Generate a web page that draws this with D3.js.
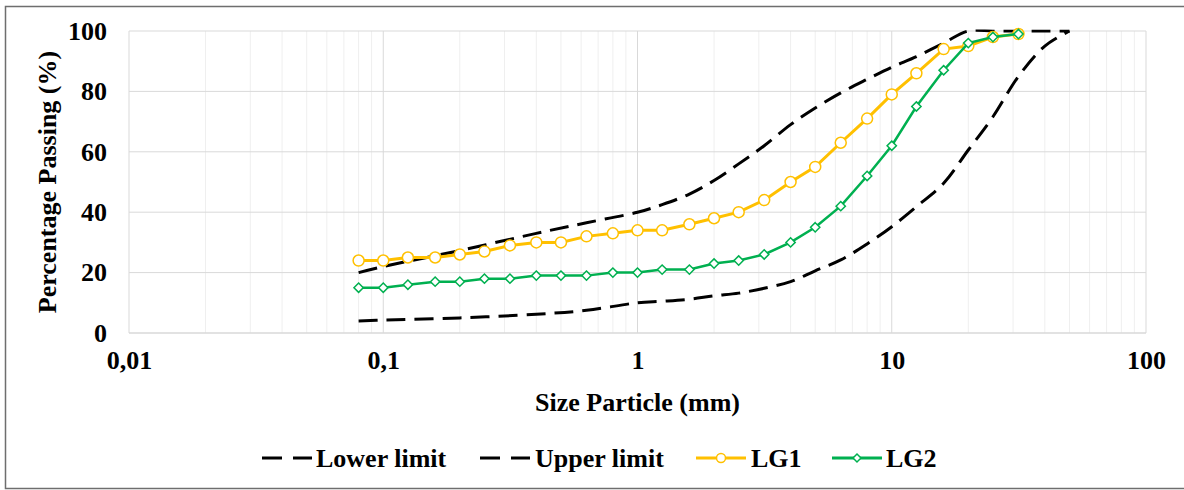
<!DOCTYPE html>
<html>
<head>
<meta charset="utf-8">
<script src="https://cdn.jsdelivr.net/npm/d3@7"></script>
<style>
  body { margin: 0; background: #fff; }
  text { font-family: "Liberation Serif", "Times New Roman", serif; font-weight: bold; fill: #000; }
</style>
</head>
<body>
<div id="chart"></div>
<script>
// sieve sizes (mm)
var sieves = [0.08, 0.1, 0.125, 0.16, 0.2, 0.25, 0.315, 0.4, 0.5, 0.63, 0.8, 1, 1.25, 1.6, 2, 2.5, 3.15, 4, 5, 6.3, 8, 10, 12.5, 16, 20, 25, 31.5];
var lg1 = [24, 24, 25, 25, 26, 27, 29, 30, 30, 32, 33, 34, 34, 36, 38, 40, 44, 50, 55, 63, 71, 79, 86, 94, 95, 98, 99];
var lg2 = [15, 15, 16, 17, 17, 18, 18, 19, 19, 19, 20, 20, 21, 21, 23, 24, 26, 30, 35, 42, 52, 62, 75, 87, 96, 98, 99];

// grading envelope
var limitSizes = [0.08, 0.1, 0.2, 0.4, 0.63, 1, 1.25, 1.6, 2, 2.5, 3.15, 4, 5, 6.3, 8, 10, 12.5, 16, 20, 25, 31.5, 40, 50];
var lowerLimit = [4, 4.3, 5, 6.2, 7.5, 10, 10.5, 11.2, 12.3, 13.2, 14.8, 17, 20.6, 24.2, 29.5, 35.2, 41.8, 49.6, 60.6, 71.6, 85, 95, 100];
var upperLimit = [20, 22, 27.3, 33, 36.5, 40, 42.5, 46, 50.5, 56, 62, 69, 74.5, 79.5, 84, 88, 91.5, 96, 100, 100, 100, 100, 100];

var xTicks = [0.01, 0.1, 1, 10, 100];
var xTickLabels = ["0,01", "0,1", "1", "10", "100"];
var yTicks = [0, 20, 40, 60, 80, 100];

var W = 1184, H = 490;
var m = {left: 129, right: 1146, top: 31, bottom: 333};

var svg = d3.select("#chart").append("svg")
    .attr("width", W)
    .attr("height", H);

svg.append("clipPath").attr("id", "plotclip")
  .append("rect")
    .attr("x", m.left).attr("y", m.top - 1.5)
    .attr("width", m.right - m.left).attr("height", m.bottom - m.top + 3);

// chart frame
svg.append("rect")
    .attr("x", 5.5).attr("y", 6.5)
    .attr("width", W).attr("height", 482)
    .attr("fill", "#fff")
    .attr("stroke", "#6e6e6e")
    .attr("stroke-width", 1.5);

var x = d3.scaleLog().domain([0.01, 100]).range([m.left, m.right]);
var y = d3.scaleLinear().domain([0, 100]).range([m.bottom, m.top]);

// minor vertical grid
var minor = [];
[0.01, 0.1, 1, 10].forEach(function(d) {
  for (var k = 2; k < 10; k++) minor.push(d * k);
});
svg.append("g").selectAll("line")
    .data(minor)
    .enter().append("line")
    .attr("x1", function(d) { return x(d); })
    .attr("x2", function(d) { return x(d); })
    .attr("y1", m.top).attr("y2", m.bottom)
    .attr("stroke", "#efefef")
    .attr("stroke-width", 1);

// major grid
svg.append("g").selectAll("line")
    .data(xTicks)
    .enter().append("line")
    .attr("x1", function(d) { return x(d); })
    .attr("x2", function(d) { return x(d); })
    .attr("y1", m.top).attr("y2", m.bottom)
    .attr("stroke", "#d9d9d9")
    .attr("stroke-width", 1);

svg.append("g").selectAll("line")
    .data(yTicks)
    .enter().append("line")
    .attr("x1", m.left).attr("x2", m.right)
    .attr("y1", function(d) { return y(d); })
    .attr("y2", function(d) { return y(d); })
    .attr("stroke", "#d9d9d9")
    .attr("stroke-width", function(d) { return d == 0 ? 1.5 : 1; });

// axes (labels only)
var yAxis = svg.append("g")
    .attr("transform", "translate(" + (m.left - 22) + ",0)")
    .call(d3.axisLeft(y).tickValues(yTicks).tickSize(0).tickPadding(0));
yAxis.select(".domain").remove();
yAxis.selectAll("text")
    .style("font-size", "26px")
    .style("font-family", "Liberation Serif, serif")
    .style("font-weight", "bold");

var xAxis = svg.append("g")
    .attr("transform", "translate(0," + (m.bottom + 18) + ")")
    .call(d3.axisBottom(x).tickValues(xTicks).tickSize(0).tickPadding(0)
      .tickFormat(function(d, i) { return xTickLabels[i]; }));
xAxis.select(".domain").remove();
xAxis.selectAll("text")
    .style("font-size", "26px")
    .style("font-family", "Liberation Serif, serif")
    .style("font-weight", "bold");

// titles
svg.append("text")
    .attr("x", (m.left + m.right) / 2)
    .attr("y", 411)
    .attr("text-anchor", "middle")
    .style("font-size", "26px")
    .text("Size Particle (mm)");

svg.append("text")
    .attr("transform", "translate(56," + ((m.top + m.bottom) / 2) + ") rotate(-90)")
    .attr("text-anchor", "middle")
    .style("font-size", "26px")
    .text("Percentage Passing (%)");

// lines
var limitLine = d3.line()
    .x(function(d) { return x(d[0]); })
    .y(function(d) { return y(d[1]); })
    .curve(d3.curveCatmullRom.alpha(0.5));

var dataLine = d3.line()
    .x(function(d) { return x(d[0]); })
    .y(function(d) { return y(d[1]); });

function zip(a, b) { return a.map(function(v, i) { return [v, b[i]]; }); }

var plot = svg.append("g").attr("clip-path", "url(#plotclip)");

plot.append("path")
    .datum(zip(limitSizes, lowerLimit))
    .attr("d", limitLine)
    .attr("fill", "none")
    .attr("stroke", "#000")
    .attr("stroke-width", 3)
    .attr("stroke-dasharray", "19,9");

plot.append("path")
    .datum(zip(limitSizes, upperLimit))
    .attr("d", limitLine)
    .attr("fill", "none")
    .attr("stroke", "#000")
    .attr("stroke-width", 3)
    .attr("stroke-dasharray", "19,9");

var gold = "#ffc000", green = "#00b050";
var marks = svg.append("g");

marks.append("path")
    .datum(zip(sieves, lg1))
    .attr("d", dataLine)
    .attr("fill", "none")
    .attr("stroke", gold)
    .attr("stroke-width", 3);

marks.append("g").selectAll("circle")
    .data(zip(sieves, lg1))
    .enter().append("circle")
    .attr("cx", function(d) { return x(d[0]); })
    .attr("cy", function(d) { return y(d[1]); })
    .attr("r", 5.5)
    .attr("fill", "#fff")
    .attr("stroke", gold)
    .attr("stroke-width", 1.5);

marks.append("path")
    .datum(zip(sieves, lg2))
    .attr("d", dataLine)
    .attr("fill", "none")
    .attr("stroke", green)
    .attr("stroke-width", 2.5);

var diamond = d3.symbol().type(d3.symbolDiamond2).size(55);
marks.append("g").selectAll("path")
    .data(zip(sieves, lg2))
    .enter().append("path")
    .attr("d", diamond)
    .attr("transform", function(d) { return "translate(" + x(d[0]) + "," + y(d[1]) + ")"; })
    .attr("fill", "#fff")
    .attr("stroke", green)
    .attr("stroke-width", 1.5);

// legend
var legendItems = [
  {name: "Lower limit", color: "#000", dash: "20,11", marker: null, x0: 262, tx: 316},
  {name: "Upper limit", color: "#000", dash: "20,11", marker: null, x0: 480, tx: 535},
  {name: "LG1", color: gold, dash: null, marker: "circle", x0: 696, tx: 751},
  {name: "LG2", color: green, dash: null, marker: "diamond", x0: 832, tx: 886}
];
var ly = 458;

var legend = svg.append("g").selectAll("g")
    .data(legendItems)
    .enter().append("g");

legend.append("line")
    .attr("x1", function(d) { return d.x0; })
    .attr("x2", function(d) { return d.x0 + 50; })
    .attr("y1", ly).attr("y2", ly)
    .attr("stroke", function(d) { return d.color; })
    .attr("stroke-width", 3)
    .attr("stroke-dasharray", function(d) { return d.dash; });

legend.filter(function(d) { return d.marker == "circle"; })
  .append("circle")
    .attr("cx", function(d) { return d.x0 + 25; })
    .attr("cy", ly)
    .attr("r", 4.5)
    .attr("fill", "#fff")
    .attr("stroke", function(d) { return d.color; })
    .attr("stroke-width", 1.5);

legend.filter(function(d) { return d.marker == "diamond"; })
  .append("path")
    .attr("d", d3.symbol().type(d3.symbolDiamond2).size(40))
    .attr("transform", function(d) { return "translate(" + (d.x0 + 25) + "," + ly + ")"; })
    .attr("fill", "#fff")
    .attr("stroke", function(d) { return d.color; })
    .attr("stroke-width", 1.5);

legend.append("text")
    .attr("x", function(d) { return d.tx; })
    .attr("y", ly)
    .attr("dy", "0.33em")
    .style("font-size", "26px")
    .text(function(d) { return d.name; });
</script>
</body>
</html>
